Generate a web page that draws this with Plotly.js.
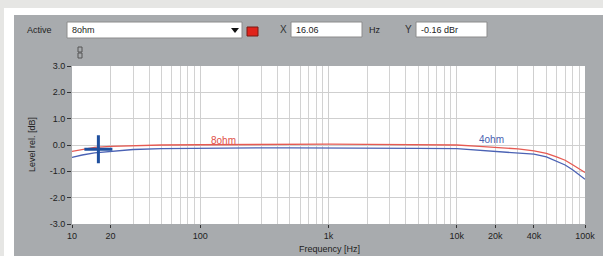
<!DOCTYPE html>
<html>
<head>
<meta charset="utf-8">
<script src="https://cdn.plot.ly/plotly-3.0.1.min.js"></script>
<style>
html,body{margin:0;padding:0;background:#e6e6e4;}
#chart{width:603px;height:256px;}
</style>
</head>
<body>
<div id="chart"></div>
<script>
// Data
const freqHz = [10, 12, 15, 20, 30, 50, 100, 200, 300, 500, 1000, 2000, 5000, 10000, 15000, 20000, 30000, 40000, 50000, 60000, 70000, 80000, 90000, 100000];
const level8ohm = [-0.24, -0.16, -0.09, -0.05, -0.02, 0.0, 0.01, 0.02, 0.04, 0.04, 0.03, 0.02, 0.01, 0.0, -0.05, -0.08, -0.15, -0.22, -0.32, -0.45, -0.58, -0.75, -0.9, -1.04];
const level4ohm = [-0.47, -0.38, -0.3, -0.24, -0.17, -0.14, -0.12, -0.12, -0.11, -0.11, -0.11, -0.12, -0.13, -0.14, -0.2, -0.25, -0.3, -0.35, -0.45, -0.62, -0.76, -0.94, -1.12, -1.3];
const cursorX = [16.06];
const cursorY = [-0.16];
const xTickVals = [10, 20, 100, 1000, 10000, 20000, 40000, 100000];
const xTickText = ['10', '20', '100', '1k', '10k', '20k', '40k', '100k'];
const yTickVals = [-3, -2, -1, 0, 1, 2, 3];
const yTickText = ['-3.0', '-2.0', '-1.0', '0.0', '1.0', '2.0', '3.0'];
const minorGrid = [];
[1, 2, 3, 4].forEach(function (d) {
  for (let m = 2; m <= 9; m++) minorGrid.push(m * Math.pow(10, d));
});

// pixel -> paper helpers (plot area: x 72..585, y 66..224)
const L = 72, R = 585, T = 66, B = 224;
const px = v => (v - L) / (R - L);
const py = v => (B - v) / (B - T);
function rect(x0, y0, x1, y1, fill, line) {
  return {type: 'rect', xref: 'paper', yref: 'paper', layer: 'below',
    x0: px(x0), x1: px(x1), y0: py(y1), y1: py(y0),
    fillcolor: fill, line: line ? {color: line, width: 1} : {width: 0}};
}
function txt(x, y, s, opts) {
  return Object.assign({xref: 'paper', yref: 'paper', x: px(x), y: py(y), text: s,
    showarrow: false, xanchor: 'left', yanchor: 'middle',
    font: {family: 'Liberation Sans, Arial, sans-serif', size: 9, color: '#222'}}, opts || {});
}

const shapes = [
  rect(4, 8, 603, 256, '#ffffff'),
  rect(14, 15, 603, 256, '#a8abae'),
  rect(L, T, R, B, '#ffffff'),
  rect(67, 22, 242, 38, '#ffffff', '#8c8c8c'),
  rect(247, 27, 258, 36, '#e0241c', '#7a1a14'),
  rect(291, 22, 362, 37, '#ffffff', '#8c8c8c'),
  rect(416, 22, 487, 37, '#ffffff', '#8c8c8c'),
  {type: 'path', xref: 'paper', yref: 'paper', layer: 'below',
    path: 'M' + px(231) + ',' + py(28) + ' L' + px(239) + ',' + py(28) + ' L' + px(235) + ',' + py(33) + ' Z',
    fillcolor: '#111', line: {width: 0}},
  rect(78, 47, 82, 52, 'rgba(0,0,0,0)', '#555'),
  rect(78, 53, 82, 58, 'rgba(0,0,0,0)', '#555')
];

const annotations = [
  txt(25, 30, 'Active'),
  txt(70, 30, '8ohm'),
  txt(278, 30, 'X', {font: {family: 'Liberation Sans, Arial, sans-serif', size: 10, color: '#333'}}),
  txt(294, 30, '16.06'),
  txt(367, 30, 'Hz'),
  txt(403, 30, 'Y', {font: {family: 'Liberation Sans, Arial, sans-serif', size: 10, color: '#333'}}),
  txt(419, 30, '-0.16 dBr'),
  txt(329, 249, 'Frequency [Hz]', {xanchor: 'center'}),
  txt(32, 145, 'Level rel. [dB]', {xanchor: 'center', textangle: -90}),
  {xref: 'x', yref: 'y', x: Math.log10(153), y: 0.17, text: '8ohm', showarrow: false,
    font: {family: 'Liberation Sans, Arial, sans-serif', size: 10, color: '#e0524a'}},
  {xref: 'x', yref: 'y', x: Math.log10(18500), y: 0.2, text: '4ohm', showarrow: false,
    font: {family: 'Liberation Sans, Arial, sans-serif', size: 10, color: '#4a5fb0'}}
];

const traces = [
  {x: freqHz, y: level4ohm, type: 'scatter', mode: 'lines', name: '4ohm',
    line: {color: '#4b62b4', width: 1.3}, hoverinfo: 'skip'},
  {x: freqHz, y: level8ohm, type: 'scatter', mode: 'lines', name: '8ohm',
    line: {color: '#e65a52', width: 1.3}, hoverinfo: 'skip'},
  {x: cursorX, y: cursorY, type: 'scatter', mode: 'markers', name: 'cursor',
    marker: {symbol: 'cross-thin-open', size: 20, color: '#1f4f9e', line: {color: '#1f4f9e', width: 3}}, hoverinfo: 'skip'}
];

const layout = {
  width: 603, height: 256,
  margin: {l: L, r: 603 - R, t: T, b: 256 - B, pad: 0},
  paper_bgcolor: '#e6e6e4',
  plot_bgcolor: 'rgba(0,0,0,0)',
  showlegend: false,
  font: {family: 'Liberation Sans, Arial, sans-serif', size: 9, color: '#222'},
  xaxis: {type: 'log', range: [1, 5], tickmode: 'array', tickvals: xTickVals, ticktext: xTickText,
    showgrid: true, gridcolor: '#cfcfcf', gridwidth: 1, zeroline: false,
    ticks: 'outside', ticklen: 3, tickcolor: '#333', tickwidth: 1,
    tickfont: {family: 'Liberation Sans, Arial, sans-serif', size: 9, color: '#222'},
    minor: {tickmode: 'array', tickvals: minorGrid, showgrid: true, gridcolor: '#d2d2d2', gridwidth: 1, ticks: ''},
    showline: false, fixedrange: true},
  yaxis: {range: [-3, 3], tickmode: 'array', tickvals: yTickVals, ticktext: yTickText,
    showgrid: true, gridcolor: '#cfcfcf', gridwidth: 1, zeroline: false,
    ticks: 'outside', ticklen: 4, tickcolor: '#333', tickwidth: 1,
    tickfont: {family: 'Liberation Sans, Arial, sans-serif', size: 9, color: '#222'},
    showline: false, fixedrange: true},
  shapes: shapes,
  annotations: annotations
};

Plotly.newPlot('chart', traces, layout, {displayModeBar: false, staticPlot: true});
</script>
</body>
</html>
